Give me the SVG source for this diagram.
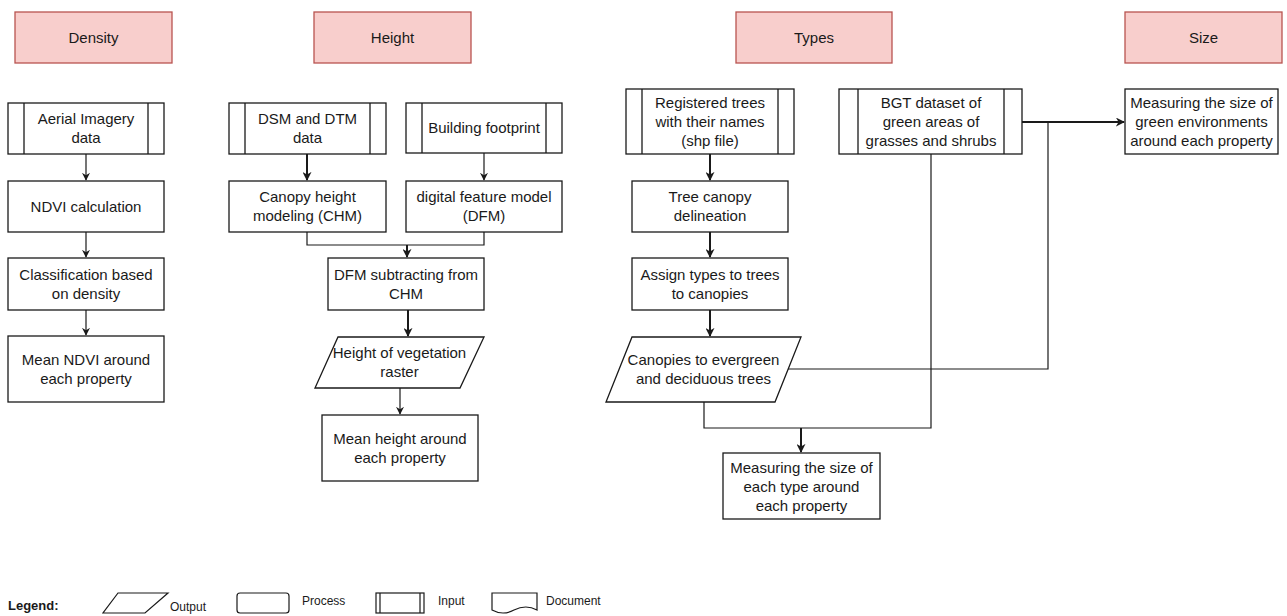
<svg xmlns="http://www.w3.org/2000/svg" width="1287" height="616" viewBox="0 0 1287 616">
<defs>
<style>
text{font-family:"Liberation Sans",Arial,sans-serif;font-size:15px;fill:#1a1a1a;text-anchor:middle}
.hdr{fill:#f8cecc;stroke:#b85450;stroke-width:1.3}
.box{fill:#fff;stroke:#1a1a1a;stroke-width:1.3}
.in{fill:none;stroke:#1a1a1a;stroke-width:1.3}
.c1{fill:none;stroke:#1a1a1a;stroke-width:1.2}
.c2{fill:none;stroke:#1a1a1a;stroke-width:2}
.lg{font-size:12px;text-anchor:start}
</style>
<marker id="ah" viewBox="0 0 10 10" refX="9" refY="5" markerWidth="8" markerHeight="8" markerUnits="userSpaceOnUse" orient="auto"><path d="M0,0 L10,5 L0,10 L3,5 Z" fill="#1a1a1a"/></marker>
<marker id="ah2" viewBox="0 0 10 10" refX="9" refY="5" markerWidth="9" markerHeight="9" markerUnits="userSpaceOnUse" orient="auto"><path d="M0,0 L10,5 L0,10 L3,5 Z" fill="#1a1a1a"/></marker>
</defs>
<rect width="1287" height="616" fill="#fff"/>

<g id="hdr-density"><rect class="hdr" x="15" y="12" width="157" height="51"/><text x="93.5" y="42.5">Density</text></g>
<g id="hdr-height"><rect class="hdr" x="314" y="12" width="157" height="51"/><text x="392.5" y="42.5">Height</text></g>
<g id="hdr-types"><rect class="hdr" x="736" y="12" width="156" height="51"/><text x="814" y="42.5">Types</text></g>
<g id="hdr-size"><rect class="hdr" x="1125" y="12" width="157" height="51"/><text x="1203.5" y="42.5">Size</text></g>

<g id="connectors">
<path class="c1" d="M86,154 V180" marker-end="url(#ah)"/>
<path class="c1" d="M86,232 V257" marker-end="url(#ah)"/>
<path class="c1" d="M86,310 V335" marker-end="url(#ah)"/>
<path class="c2" d="M307,154 V180" marker-end="url(#ah2)"/>
<path class="c1" d="M484,153 V180" marker-end="url(#ah)"/>
<path class="c1" d="M307,232 V245 H484 V232"/>
<path class="c2" d="M407,245 V257" marker-end="url(#ah2)"/>
<path class="c2" d="M408,310 V336" marker-end="url(#ah2)"/>
<path class="c1" d="M400,388 V414" marker-end="url(#ah)"/>
<path class="c2" d="M710,154 V180" marker-end="url(#ah2)"/>
<path class="c2" d="M710,232 V257" marker-end="url(#ah2)"/>
<path class="c2" d="M710,310 V336" marker-end="url(#ah2)"/>
<path class="c1" d="M704,402 V428 H931 V154"/>
<path class="c2" d="M801,428 V452" marker-end="url(#ah2)"/>
<path class="c1" d="M788,369 H1048 V122"/>
<path class="c2" d="M1022,122 H1124" stroke-width="1.6" marker-end="url(#ah2)"/>
</g>

<g id="n-aerial"><rect class="box" x="8" y="103" width="156" height="51"/><path class="in" d="M24,103 V154 M148,103 V154"/><text x="86" y="124">Aerial Imagery</text><text x="86" y="143">data</text></g>
<g id="n-ndvi"><rect class="box" x="8" y="181" width="156" height="51"/><text x="86" y="211.5">NDVI calculation</text></g>
<g id="n-class"><rect class="box" x="8" y="258" width="156" height="52"/><text x="86" y="279.5">Classification based</text><text x="86" y="298.5">on density</text></g>
<g id="n-meanndvi"><rect class="box" x="8" y="336" width="156" height="66"/><text x="86" y="364.5">Mean NDVI around</text><text x="86" y="383.5">each property</text></g>

<g id="n-dsm"><rect class="box" x="229" y="103" width="157" height="51"/><path class="in" d="M245,103 V154 M370,103 V154"/><text x="307.5" y="124">DSM and DTM</text><text x="307.5" y="143">data</text></g>
<g id="n-building"><rect class="box" x="406" y="103" width="156" height="50"/><path class="in" d="M422,103 V153 M546,103 V153"/><text x="484" y="133">Building footprint</text></g>
<g id="n-chm"><rect class="box" x="229" y="181" width="157" height="51"/><text x="307.5" y="202">Canopy height</text><text x="307.5" y="221">modeling (CHM)</text></g>
<g id="n-dfm"><rect class="box" x="406" y="181" width="156" height="51"/><text x="484" y="202">digital feature model</text><text x="484" y="221">(DFM)</text></g>
<g id="n-sub"><rect class="box" x="328" y="258" width="156" height="52"/><text x="406" y="279.5">DFM subtracting from</text><text x="406" y="298.5">CHM</text></g>
<g id="n-heightveg"><path class="box" d="M338,337 H484 L460,388 H315 Z"/><text x="399.5" y="358">Height of vegetation</text><text x="399.5" y="377">raster</text></g>
<g id="n-meanheight"><rect class="box" x="322" y="415" width="156" height="66"/><text x="400" y="443.5">Mean height around</text><text x="400" y="462.5">each property</text></g>

<g id="n-registered"><rect class="box" x="626" y="89" width="168" height="65"/><path class="in" d="M642,89 V154 M778,89 V154"/><text x="710" y="108">Registered trees</text><text x="710" y="127">with their names</text><text x="710" y="146">(shp file)</text></g>
<g id="n-bgt"><rect class="box" x="839" y="89" width="183" height="65"/><path class="in" d="M858,89 V154 M1004,89 V154"/><text x="931" y="108">BGT dataset of</text><text x="931" y="127">green areas of</text><text x="931" y="146">grasses and shrubs</text></g>
<g id="n-delin"><rect class="box" x="632" y="181" width="156" height="51"/><text x="710" y="202">Tree canopy</text><text x="710" y="221">delineation</text></g>
<g id="n-assign"><rect class="box" x="632" y="258" width="156" height="52"/><text x="710" y="279.5">Assign types to trees</text><text x="710" y="298.5">to canopies</text></g>
<g id="n-canopies"><path class="box" d="M632,337 H801 L775,402 H606 Z"/><text x="703.5" y="365">Canopies to evergreen</text><text x="703.5" y="384">and deciduous trees</text></g>
<g id="n-measuretype"><rect class="box" x="723" y="453" width="157" height="66"/><text x="801.5" y="472.5">Measuring the size of</text><text x="801.5" y="491.5">each type around</text><text x="801.5" y="510.5">each property</text></g>
<g id="n-measuregreen"><rect class="box" x="1125" y="89" width="153" height="65"/><text x="1201.5" y="108">Measuring the size of</text><text x="1201.5" y="127">green environments</text><text x="1201.5" y="146">around each property</text></g>

<g id="legend">
<text x="8" y="610" style="font-size:13px;font-weight:bold;text-anchor:start">Legend:</text>
<path class="c1" d="M118,593 H168 L145,613 H103 Z"/>
<text class="lg" x="170" y="611">Output</text>
<rect class="c1" x="237" y="593" width="52" height="20" rx="3"/>
<text class="lg" x="302" y="605">Process</text>
<rect class="c1" x="376" y="593" width="48" height="20"/>
<path class="c1" d="M380,593 V613 M420,593 V613"/>
<text class="lg" x="438" y="605">Input</text>
<path class="c1" d="M492,593 H537 V610 Q526,604 514,610 Q503,616 492,610 Z"/>
<text class="lg" x="546" y="605">Document</text>
</g>
</svg>
